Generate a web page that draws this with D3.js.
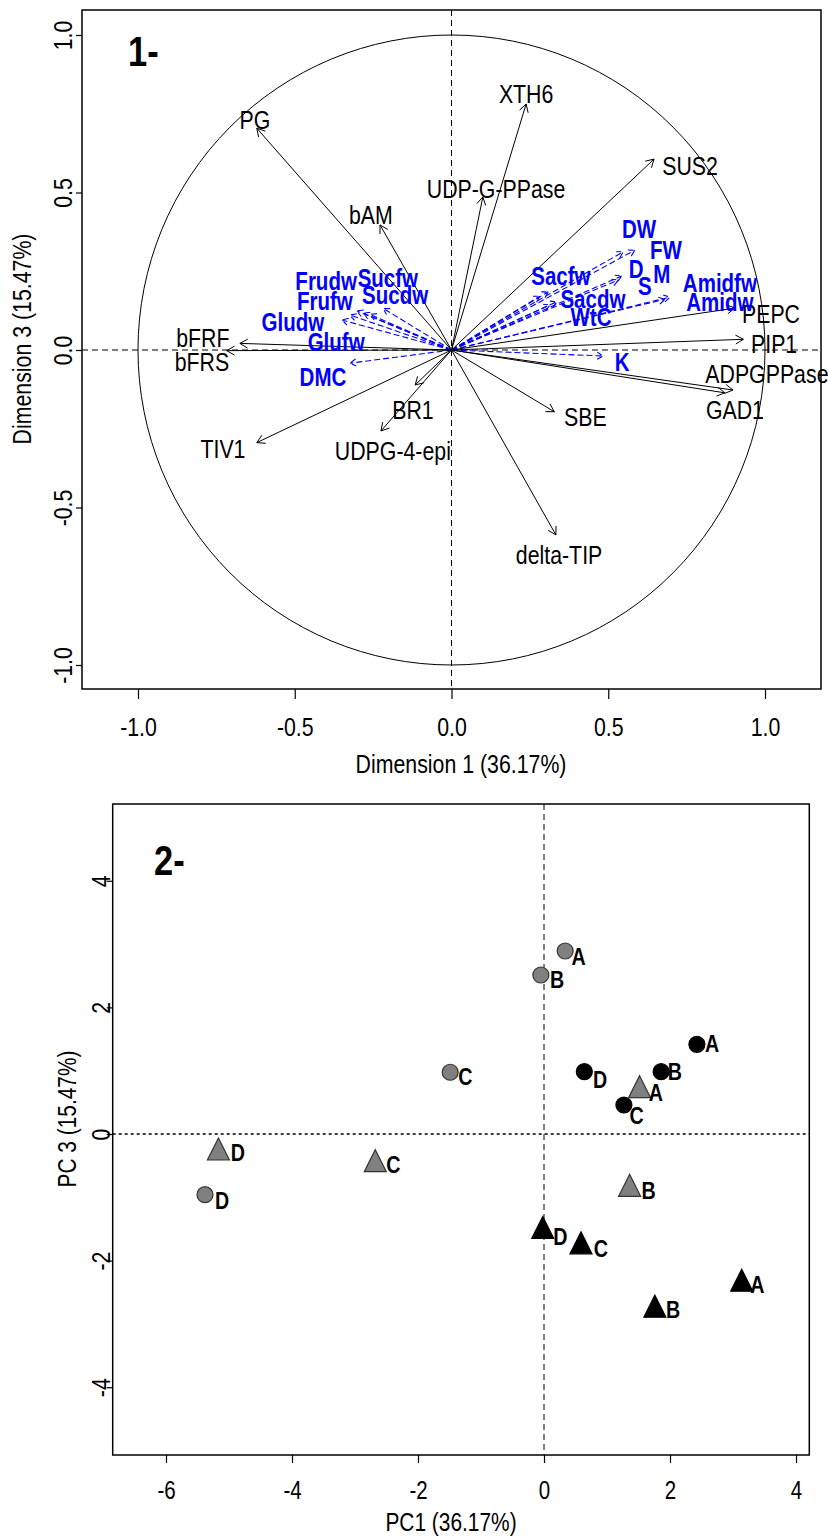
<!DOCTYPE html>
<html><head><meta charset="utf-8">
<script src="https://cdn.jsdelivr.net/npm/d3@7"></script>
<style>body{margin:0;background:#fff}</style>
</head><body>
<svg id="chart" width="828" height="1537"></svg>
<script>
// ---------- Panel 1: correlation circle (Dimension 1 vs Dimension 3) ----------
const activeVars = ["PG","bAM","bFRF","bFRS","XTH6","UDP-G-PPase","SUS2","PEPC","PIP1","ADPGPPase","GAD1","SBE","delta-TIP","BR1","UDPG-4-epi","TIV1"];
const activeDim1 = [-0.621,-0.228,-0.675,-0.717,0.238,0.100,0.646,0.904,0.931,0.898,0.872,0.328,0.333,-0.116,-0.225,-0.621];
const activeDim3 = [0.704,0.397,0.021,-0.002,0.781,0.486,0.606,0.133,0.034,-0.127,-0.136,-0.196,-0.587,-0.111,-0.257,-0.294];
const activeLabelDim1 = [-0.627,-0.257,-0.793,-0.796,0.238,0.142,0.761,1.019,1.029,1.006,0.904,0.427,0.343,-0.123,-0.187,-0.729];
const activeLabelDim3 = [0.732,0.429,0.038,-0.038,0.813,0.511,0.584,0.114,0.019,-0.076,-0.190,-0.212,-0.651,-0.190,-0.321,-0.314];

const suppVars = ["Frudw","Sucfw","Frufw","Sucdw","Gludw","Glufw","DMC","DW","FW","D","M","S","Sacfw","Sacdw","WtC","Amidfw","Amidw","K"];
const suppDim1 = [-0.302,-0.218,-0.281,-0.260,-0.349,-0.324,-0.324,0.548,0.585,0.543,0.309,0.532,0.282,0.336,0.314,0.697,0.681,0.484];
const suppDim3 = [0.124,0.132,0.117,0.113,0.095,0.111,-0.042,0.312,0.317,0.235,0.185,0.222,0.171,0.153,0.143,0.168,0.161,-0.019];
const suppLabelDim1 = [-0.400,-0.203,-0.404,-0.180,-0.506,-0.368,-0.410,0.598,0.684,0.589,0.671,0.617,0.349,0.451,0.445,0.856,0.856,0.544];
const suppLabelDim3 = [0.217,0.229,0.156,0.175,0.089,0.025,-0.086,0.384,0.317,0.257,0.241,0.203,0.235,0.162,0.105,0.213,0.152,-0.038];

const corTicks = [-1,-0.5,0,0.5,1];
const corTickLabels = ["-1.0","-0.5","0.0","0.5","1.0"];
const corXTitle = "Dimension 1 (36.17%)";
const corYTitle = "Dimension 3 (15.47%)";

// ---------- Panel 2: individuals (PC1 vs PC3) ----------
const sampleLabels = ["A","B","C","D","A","B","C","D","A","B","C","D","A","B","C","D"];
const sampleGroup = ["circle-gray","circle-gray","circle-gray","circle-gray",
                     "circle-black","circle-black","circle-black","circle-black",
                     "triangle-gray","triangle-gray","triangle-gray","triangle-gray",
                     "triangle-black","triangle-black","triangle-black","triangle-black"];
const samplePC1 = [0.336,-0.050,-1.489,-5.381, 2.427,1.859,1.268,0.640, 1.517,1.359,-2.678,-5.168, 3.138,1.760,0.587,-0.020];
const samplePC3 = [2.891,2.512,0.975,-0.959, 1.417,0.984,0.458,0.984, 0.739,-0.818,-0.430,-0.245, -2.318,-2.728,-1.727,-1.485];
const sampleLabelPC1 = [0.435,0.095,-1.360,-5.222, 2.556,1.965,1.359,0.778, 1.662,1.548,-2.503,-4.971, 3.275,1.935,0.790,0.148];
const sampleLabelPC3 = [2.670,2.306,0.774,-1.190, 1.300,0.853,0.158,0.727, 0.521,-1.027,-0.621,-0.427, -2.517,-2.912,-1.938,-1.754];

const pcXTicks = [-6,-4,-2,0,2,4];
const pcYTicks = [-4,-2,0,2,4];
const pcXTitle = "PC1 (36.17%)";
const pcYTitle = "PC 3 (15.47%)";

// ---------- drawing ----------
const svg = d3.select("#chart");
const FONT = "'Liberation Sans', Arial, Helvetica, sans-serif";
const SX = 0.82; // narrow glyphs

function addText(g, o) {
  let tr = `translate(${o.x},${o.y})`;
  if (o.rotate) tr += ` rotate(${o.rotate})`;
  tr += ` scale(${SX},1)`;
  return g.append("text")
    .attr("transform", tr)
    .attr("text-anchor", o.anchor || "middle")
    .attr("dy", o.dy || 0)
    .style("font-family", FONT)
    .style("font-size", o.size + "px")
    .style("font-weight", o.weight || "normal")
    .style("fill", o.fill || "#000")
    .text(o.text);
}

function arrowPath(x0, y0, x1, y1, len) {
  const a = Math.atan2(y1 - y0, x1 - x0);
  const h = Math.PI / 6;
  const ax = x1 - len * Math.cos(a - h), ay = y1 - len * Math.sin(a - h);
  const bx = x1 - len * Math.cos(a + h), by = y1 - len * Math.sin(a + h);
  return `M${x0},${y0}L${x1},${y1}M${ax},${ay}L${x1},${y1}L${bx},${by}`;
}

// ===== Panel 1 =====
const p1 = svg.append("g");
const x1 = d3.scaleLinear().domain([-1.1786, 1.1786]).range([82, 821]);
const y1 = d3.scaleLinear().domain([-1.0762, 1.0794]).range([689, 10]);

// circle
p1.append("ellipse")
  .attr("cx", x1(0)).attr("cy", y1(0))
  .attr("rx", x1(1) - x1(0)).attr("ry", y1(0) - y1(1))
  .attr("fill", "none").attr("stroke", "#000").attr("stroke-width", 1);

// dashed axes
p1.append("line").attr("x1", x1(0)).attr("x2", x1(0)).attr("y1", y1.range()[1]).attr("y2", y1.range()[0])
  .attr("stroke", "#000").attr("stroke-width", 1).attr("stroke-dasharray", "6,4");
p1.append("line").attr("x1", x1.range()[0]).attr("x2", x1.range()[1]).attr("y1", y1(0)).attr("y2", y1(0))
  .attr("stroke", "#000").attr("stroke-width", 1).attr("stroke-dasharray", "6,4");

// supplementary (blue dashed) arrows
p1.append("g").selectAll("path").data(suppVars).join("path")
  .attr("d", (d, i) => arrowPath(x1(0), y1(0), x1(suppDim1[i]), y1(suppDim3[i]), 7))
  .attr("fill", "none").attr("stroke", "#0000ff").attr("stroke-width", 1.1)
  .attr("stroke-dasharray", "6,3");

// active (black) arrows
p1.append("g").selectAll("path").data(activeVars).join("path")
  .attr("d", (d, i) => arrowPath(x1(0), y1(0), x1(activeDim1[i]), y1(activeDim3[i]), 9))
  .attr("fill", "none").attr("stroke", "#000").attr("stroke-width", 1);

// labels
activeVars.forEach((v, i) => addText(p1, {x: x1(activeLabelDim1[i]), y: y1(activeLabelDim3[i]), text: v, size: 26, dy: "0.35em"}));
suppVars.forEach((v, i) => addText(p1, {x: x1(suppLabelDim1[i]), y: y1(suppLabelDim3[i]), text: v, size: 25, weight: "bold", fill: "#0000ff", dy: "0.35em"}));

// axes
const ax1b = p1.append("g").attr("transform", `translate(0,${y1.range()[0]})`)
  .call(d3.axisBottom(x1).tickValues(corTicks).tickFormat((d, i) => corTickLabels[i]).tickSize(10).tickPadding(19));
const ax1l = p1.append("g").attr("transform", `translate(${x1.range()[0]},0)`)
  .call(d3.axisLeft(y1).tickValues(corTicks).tickFormat((d, i) => corTickLabels[i]).tickSize(6));
[ax1b, ax1l].forEach(a => { a.select(".domain").remove(); a.selectAll("line").attr("stroke", "#000").attr("stroke-width", 1.2); });
ax1b.selectAll("text").attr("transform", `scale(${SX},1)`).style("font-family", FONT).style("font-size", "26px").attr("fill", "#000");
ax1l.selectAll("text").attr("x", 0).attr("y", 0).attr("dy", 0).attr("text-anchor", "middle")
  .attr("transform", `translate(-10,0) rotate(-90) scale(${SX},1)`)
  .style("font-family", FONT).style("font-size", "26px").attr("fill", "#000");

// box
p1.append("rect").attr("x", 82).attr("y", 10).attr("width", 821 - 82).attr("height", 689 - 10)
  .attr("fill", "none").attr("stroke", "#000").attr("stroke-width", 1.5);

addText(p1, {x: 461, y: 773, text: corXTitle, size: 26});
addText(p1, {x: 31, y: 339, text: corYTitle, size: 26, rotate: -90});
addText(p1, {x: 128, y: 66, text: "1-", size: 42, weight: "bold", anchor: "start"});

// ===== Panel 2 =====
const p2 = svg.append("g");
const x2 = d3.scaleLinear().domain([-6.846, 4.211]).range([112.7, 809.3]);
const y2 = d3.scaleLinear().domain([-5.071, 5.213]).range([1455, 804]);

p2.append("line").attr("x1", x2(0)).attr("x2", x2(0)).attr("y1", y2.range()[1]).attr("y2", y2.range()[0])
  .attr("stroke", "#000").attr("stroke-width", 1).attr("stroke-dasharray", "6,4");
p2.append("line").attr("x1", x2.range()[0]).attr("x2", x2.range()[1]).attr("y1", y2(0)).attr("y2", y2(0))
  .attr("stroke", "#000").attr("stroke-width", 1.6).attr("stroke-dasharray", "3,3");

const styleOf = g => ({
  shape: g.startsWith("circle") ? "circle" : "triangle",
  fill: g.endsWith("gray") ? "#808080" : "#000",
  stroke: g.endsWith("gray") ? "#333" : "#000"
});

const pts = p2.append("g");
sampleLabels.forEach((lab, i) => {
  const s = styleOf(sampleGroup[i]);
  const cx = x2(samplePC1[i]), cy = y2(samplePC3[i]);
  if (s.shape === "circle") {
    pts.append("circle").attr("cx", cx).attr("cy", cy).attr("r", 8)
      .attr("fill", s.fill).attr("stroke", s.stroke).attr("stroke-width", 1.2);
  } else {
    pts.append("path").attr("d", `M${cx},${cy - 11.5}L${cx + 11},${cy + 10.5}L${cx - 11},${cy + 10.5}Z`)
      .attr("fill", s.fill).attr("stroke", s.stroke).attr("stroke-width", 1.2);
  }
  addText(p2, {x: x2(sampleLabelPC1[i]), y: y2(sampleLabelPC3[i]), text: lab, size: 24, weight: "bold", anchor: "start"});
});

const ax2b = p2.append("g").attr("transform", `translate(0,${y2.range()[0]})`)
  .call(d3.axisBottom(x2).tickValues(pcXTicks).tickFormat(d => String(d)).tickSize(8).tickPadding(18));
const ax2l = p2.append("g").attr("transform", `translate(${x2.range()[0]},0)`)
  .call(d3.axisLeft(y2).tickValues(pcYTicks).tickFormat(d => String(d)).tickSize(6));
[ax2b, ax2l].forEach(a => { a.select(".domain").remove(); a.selectAll("line").attr("stroke", "#000").attr("stroke-width", 1.2); });
ax2b.selectAll("text").attr("transform", `scale(${SX},1)`).style("font-family", FONT).style("font-size", "25px").attr("fill", "#000");
ax2l.selectAll("text").attr("x", 0).attr("y", 0).attr("dy", 0).attr("text-anchor", "middle")
  .attr("transform", `translate(-3,0) rotate(-90) scale(${SX},1)`)
  .style("font-family", FONT).style("font-size", "26px").attr("fill", "#000");

p2.append("rect").attr("x", 112.7).attr("y", 804).attr("width", 809.3 - 112.7).attr("height", 1455 - 804)
  .attr("fill", "none").attr("stroke", "#000").attr("stroke-width", 1.5);

addText(p2, {x: 451, y: 1531, text: pcXTitle, size: 25.5});
addText(p2, {x: 76, y: 1119, text: pcYTitle, size: 25.5, rotate: -90});
addText(p2, {x: 154, y: 875, text: "2-", size: 42, weight: "bold", anchor: "start"});
</script>
</body></html>
